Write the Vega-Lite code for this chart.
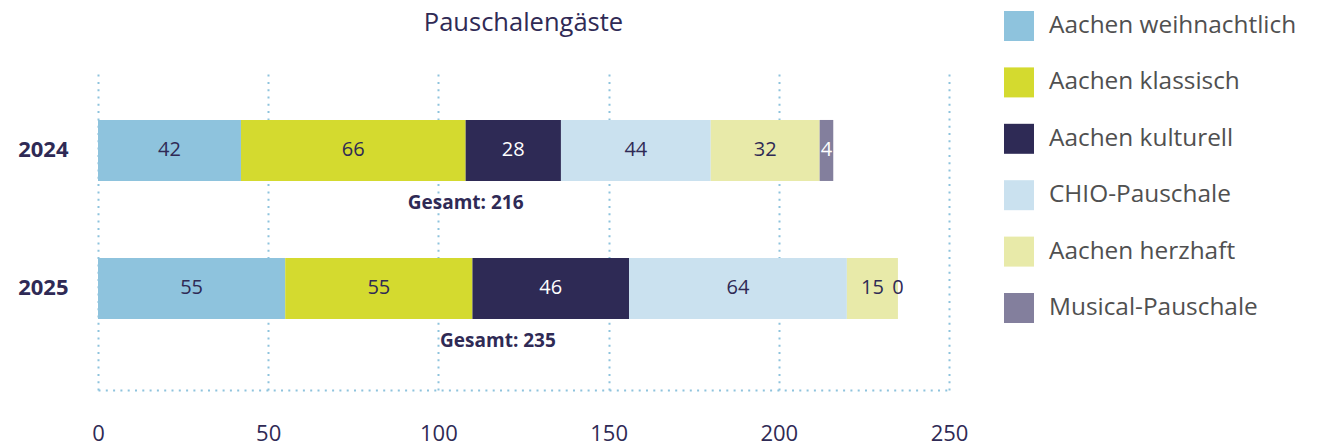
{
  "$schema": "https://vega.github.io/schema/vega-lite/v6.json",
  "width": 851,
  "height": 317,
  "autosize": {"type": "none"},
  "padding": {"left": 98, "top": 73, "right": 370, "bottom": 55},
  "background": "white",
  "title": {"text": "Pauschalengäste", "fontSize": 25.5, "font": "Open Sans", "fontWeight": "normal", "color": "#2f2a55", "anchor": "middle", "offset": -25},
  "config": {"view": {"stroke": null}, "font": "Open Sans"},
  "datasets": {
    "parts": [
      {"jahr": "2024", "kat": "Aachen weihnachtlich", "o": 1, "wert": 42},
      {"jahr": "2024", "kat": "Aachen klassisch", "o": 2, "wert": 66},
      {"jahr": "2024", "kat": "Aachen kulturell", "o": 3, "wert": 28},
      {"jahr": "2024", "kat": "CHIO-Pauschale", "o": 4, "wert": 44},
      {"jahr": "2024", "kat": "Aachen herzhaft", "o": 5, "wert": 32},
      {"jahr": "2024", "kat": "Musical-Pauschale", "o": 6, "wert": 4},
      {"jahr": "2025", "kat": "Aachen weihnachtlich", "o": 1, "wert": 55},
      {"jahr": "2025", "kat": "Aachen klassisch", "o": 2, "wert": 55},
      {"jahr": "2025", "kat": "Aachen kulturell", "o": 3, "wert": 46},
      {"jahr": "2025", "kat": "CHIO-Pauschale", "o": 4, "wert": 64},
      {"jahr": "2025", "kat": "Aachen herzhaft", "o": 5, "wert": 15},
      {"jahr": "2025", "kat": "Musical-Pauschale", "o": 6, "wert": 0}
    ],
    "totals": [
      {"jahr": "2024", "gesamt": 216, "label": "Gesamt: 216"},
      {"jahr": "2025", "gesamt": 235, "label": "Gesamt: 235"}
    ]
  },
  "layer": [
    {
      "data": {"name": "parts"},
      "mark": {"type": "bar"},
      "encoding": {
        "y": {
          "field": "jahr", "type": "nominal", "title": null,
          "scale": {"paddingInner": 0.558, "paddingOuter": 0.4275, "align": 0.398},
          "axis": {"grid": false, "domain": false, "ticks": false, "labelPadding": 30, "labelFontSize": 22, "labelFontWeight": "bold", "labelColor": "#2f2a55", "labelFont": "Open Sans"}
        },
        "x": {
          "field": "wert", "type": "quantitative", "stack": "zero", "title": null,
          "scale": {"domain": [0, 250], "nice": false},
          "axis": {"values": [0, 50, 100, 150, 200, 250], "grid": true, "gridColor": "#8ec3dd", "gridDash": [2, 5.3], "gridWidth": 2, "domainColor": "#8ec3dd", "domainDash": [2, 5.3], "domainWidth": 2, "ticks": false, "labelPadding": 33, "labelFontSize": 22, "labelColor": "#2f2a55", "labelFont": "Open Sans", "labelFlush": false}
        },
        "color": {
          "field": "kat", "type": "nominal",
          "scale": {
            "domain": ["Aachen weihnachtlich", "Aachen klassisch", "Aachen kulturell", "CHIO-Pauschale", "Aachen herzhaft", "Musical-Pauschale"],
            "range": ["#8ec3dd", "#d4da2f", "#2e2a55", "#cae1ef", "#e8eaa9", "#837f9d"]
          },
          "legend": {"orient": "none", "legendX": 906, "legendY": -62, "title": null, "padding": 0, "symbolType": "square", "symbolSize": 900, "symbolStrokeWidth": 0, "symbolOpacity": 1, "labelFontSize": 24.4, "labelColor": "#505050", "labelFont": "Open Sans", "rowPadding": 26.4, "labelOffset": 15, "labelLimit": 400}
        },
        "order": {"field": "o", "type": "quantitative"}
      }
    },
    {
      "data": {"name": "parts"},
      "mark": {"type": "text", "fontSize": 20, "baseline": "middle", "align": "center"},
      "encoding": {
        "y": {"field": "jahr", "type": "nominal"},
        "x": {"field": "wert", "type": "quantitative", "stack": "zero", "bandPosition": 0.5},
        "detail": {"field": "kat"},
        "order": {"field": "o", "type": "quantitative"},
        "text": {"field": "wert"},
        "color": {
          "condition": {"test": "datum.wert > 0 && (datum.kat == 'Aachen kulturell' || datum.kat == 'Musical-Pauschale')", "value": "white"},
          "value": "#2f2a55"
        }
      }
    },
    {
      "data": {"name": "totals"},
      "mark": {"type": "text", "fontSize": 19, "fontWeight": "bold", "baseline": "middle", "align": "center", "dy": 53, "color": "#2f2a55"},
      "encoding": {
        "y": {"field": "jahr", "type": "nominal"},
        "x": {"field": "gesamt", "type": "quantitative", "stack": "zero", "bandPosition": 0.5},
        "text": {"field": "label"}
      }
    }
  ]
}
